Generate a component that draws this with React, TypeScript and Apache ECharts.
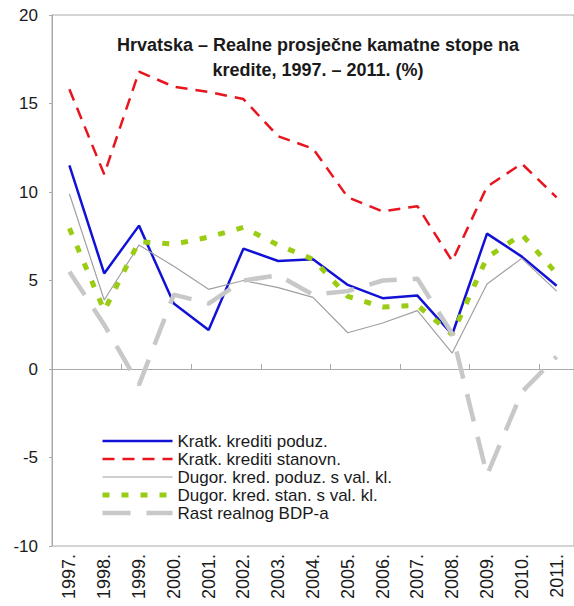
import React, { useEffect, useRef } from "react";
import * as echarts from "echarts";

const years = ["1997.", "1998.", "1999.", "2000.", "2001.", "2002.", "2003.", "2004.", "2005.", "2006.", "2007.", "2008.", "2009.", "2010.", "2011."];
const kratkPoduz = [11.5, 5.4, 8.1, 3.7, 2.2, 6.8, 6.1, 6.2, 4.75, 4.0, 4.15, 1.95, 7.65, 6.35, 4.7];
const kratkStan = [15.8, 11.0, 16.8, 15.95, 15.65, 15.25, 13.15, 12.45, 9.7, 8.9, 9.2, 6.1, 10.3, 11.6, 9.7];
const dugPoduz = [9.9, 3.9, 7.0, 5.8, 4.5, 5.0, 4.6, 4.05, 2.05, 2.6, 3.3, 0.9, 4.8, 6.25, 4.4];
const dugStan = [7.95, 3.3, 7.2, 7.05, 7.45, 8.0, 7.0, 6.2, 4.1, 3.5, 3.6, 1.95, 6.3, 7.6, 5.4];
const gdp = [5.5, 2.5, -0.9, 4.2, 3.7, 5.0, 5.3, 4.2, 4.4, 5.0, 5.1, 2.0, -6.0, -1.3, 0.7];

const seriesNames = [
  "Kratk. krediti poduz.",
  "Kratk. krediti stanovn.",
  "Dugor. kred. poduz. s val. kl.",
  "Dugor. kred. stan. s val. kl.",
  "Rast realnog BDP-a",
];
const titleText = "Hrvatska – Realne prosječne kamatne stope na\nkredite, 1997. – 2011. (%)";

const FONT = "Liberation Sans, Arial, sans-serif";

export default function App() {
  const ref = useRef<HTMLDivElement>(null);
  useEffect(() => {
    if (!ref.current) return;
    const chart = echarts.init(ref.current, undefined, { renderer: "svg" });
    const mk = (name: string, data: number[], color: string, width: number, type: any) => ({
      name,
      type: "line",
      data,
      xAxisIndex: 0,
      symbol: "none",
      showSymbol: false,
      itemStyle: { color },
      lineStyle: { color, width, type, cap: "butt" },
    });
    chart.setOption({
      animation: false,
      backgroundColor: "#ffffff",
      textStyle: { fontFamily: FONT },
      grid: { left: 52, top: 15, right: -3, bottom: 60, show: true, borderColor: "#aaaaaa", borderWidth: 1, containLabel: false },
      graphic: [
        {
          type: "text",
          x: 318,
          y: 32,
          style: {
            text: titleText,
            fill: "#1a1a1a",
            font: `bold 18px ${FONT}`,
            textAlign: "center",
            textVerticalAlign: "top",
            lineHeight: 25,
          },
          z: 10,
        },
      ],
      legend: {
        orient: "vertical",
        left: 100,
        top: 432,
        itemWidth: 70,
        itemHeight: 2,
        itemGap: 0,
        padding: 0,
        data: seriesNames,
        itemStyle: { opacity: 0 },
        lineStyle: { width: "inherit", type: "inherit", color: "inherit", cap: "butt" },
        textStyle: { fontSize: 17, lineHeight: 18, color: "#1a1a1a", fontFamily: FONT },
      },
      xAxis: [
        {
          type: "category",
          data: years,
          position: "bottom",
          boundaryGap: true,
          axisLine: { show: true, onZero: true, lineStyle: { color: "#aaaaaa", width: 1 } },
          axisTick: { show: true, inside: true, length: 5, lineStyle: { color: "#aaaaaa" } },
          axisLabel: { show: false },
          splitLine: { show: false },
        },
        {
          type: "category",
          data: years,
          position: "bottom",
          boundaryGap: true,
          axisLine: { show: false, onZero: false },
          axisTick: { show: false },
          axisLabel: { show: true, rotate: 90, fontSize: 18, color: "#1a1a1a", margin: 8, fontFamily: FONT },
          splitLine: { show: false },
        },
      ],
      yAxis: {
        type: "value",
        min: -10,
        max: 20,
        interval: 5,
        axisLine: { show: true, lineStyle: { color: "#aaaaaa" } },
        axisTick: { show: true, inside: false, length: 3, lineStyle: { color: "#aaaaaa" } },
        axisLabel: { fontSize: 17, color: "#1a1a1a", margin: 14, fontFamily: FONT },
        splitLine: { show: false },
      },
      series: [
        mk(seriesNames[0], kratkPoduz, "#1212d6", 2.5, "solid"),
        mk(seriesNames[1], kratkStan, "#e8141e", 2.5, [12, 8]),
        mk(seriesNames[2], dugPoduz, "#a0a0a0", 1.2, "solid"),
        mk(seriesNames[3], dugStan, "#9acc14", 5, [7, 12]),
        mk(seriesNames[4], gdp, "#c8c8c8", 4.5, [28, 16]),
      ],
    });
    return () => chart.dispose();
  }, []);
  return <div ref={ref} style={{ width: 574, height: 606, position: "absolute", left: 0, top: 0 }} />;
}
